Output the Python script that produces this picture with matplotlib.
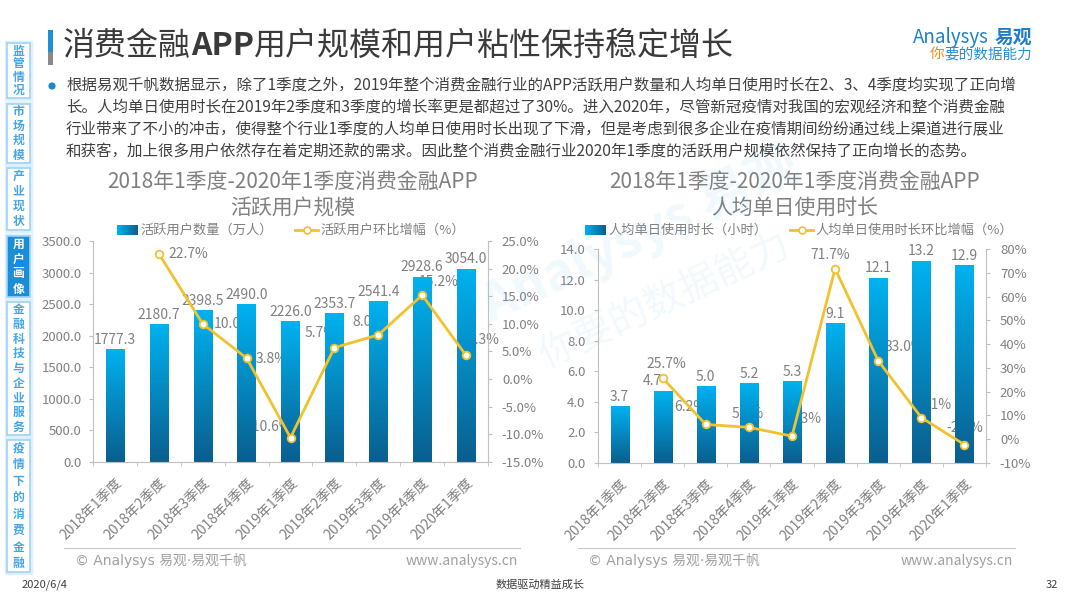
import matplotlib
matplotlib.use('Agg')
import matplotlib.pyplot as plt
import numpy as np
from matplotlib.patches import Rectangle, Circle
from matplotlib.lines import Line2D
from matplotlib.colors import LinearSegmentedColormap

plt.rcParams['font.family'] = ['Noto Sans CJK SC', 'DejaVu Sans']

# ---------------- data ----------------
categories = ['2018年1季度', '2018年2季度', '2018年3季度', '2018年4季度', '2019年1季度',
              '2019年2季度', '2019年3季度', '2019年4季度', '2020年1季度']
users = [1777.3, 2180.7, 2398.5, 2490.0, 2226.0, 2353.7, 2541.4, 2928.6, 3054.0]
users_growth = [np.nan, 22.7, 10.0, 3.8, -10.6, 5.7, 8.0, 15.2, 4.3]
hours = [3.7, 4.7, 5.0, 5.2, 5.3, 9.1, 12.1, 13.2, 12.9]
hours_growth = [np.nan, 25.7, 6.2, 5.0, 1.3, 71.7, 33.0, 9.1, -2.3]

left_title = '2018年1季度-2020年1季度消费金融APP\n活跃用户规模'
right_title = '2018年1季度-2020年1季度消费金融APP\n人均单日使用时长'
left_legend = ['活跃用户数量（万人）', '活跃用户环比增幅（%）']
right_legend = ['人均单日使用时长（小时）', '人均单日使用时长环比增幅（%）']
page_title_parts = [('消费金融', 'normal'), ('APP', 'bold'), ('用户规模和用户粘性保持稳定增长', 'normal')]
body_lines = [
    '根据易观千帆数据显示，除了1季度之外，2019年整个消费金融行业的APP活跃用户数量和人均单日使用时长在2、3、4季度均实现了正向增',
    '长。人均单日使用时长在2019年2季度和3季度的增长率更是都超过了30%。进入2020年，尽管新冠疫情对我国的宏观经济和整个消费金融',
    '行业带来了不小的冲击，使得整个行业1季度的人均单日使用时长出现了下滑，但是考虑到很多企业在疫情期间纷纷通过线上渠道进行展业',
    '和获客，加上很多用户依然存在着定期还款的需求。因此整个消费金融行业2020年1季度的活跃用户规模依然保持了正向增长的态势。',
]
side_tabs = ['监管情况', '市场规模', '产业现状', '用户画像', '金融科技与企业服务', '疫情下的消费金融']
active_tab = 3

# ---------------- styles ----------------
W, H = 1080, 608
GRAY = '#808080'
AXC = '#c0c0c0'
GOLD = '#F2C12E'
bar_cmap = LinearSegmentedColormap.from_list('b', ['#0A5E8E', '#00B2F0'])
# label placement (ha, dx px, dy px down) for the growth labels
users_lbl_style = [None, ('left', 10, 0), ('left', 11, 0), ('left', 9, 1), ('right', 2, -11),
                   ('right', 2, -15), ('right', 6, -13), ('left', -3, -13), ('left', 2, -15)]
hours_lbl_style = [None, ('center', 4, -14), ('right', 1, -17), ('center', -1, -13), ('left', -2, -17),
                   ('center', -5, -14), ('left', 6, -14), ('left', -2, -13), ('center', 0, -17)]
hours_bar_dx = [0, -10, 0, 0, 0, 0, 0, 0, 0]

fig = plt.figure(figsize=(W / 100, H / 100), dpi=100)
fig.patch.set_facecolor('white')


def ax_rect(x0, y0, x1, y1):
    return [x0 / W, 1 - y1 / H, (x1 - x0) / W, (y1 - y0) / H]


def make_chart(rect, bars, growth, ylim, yticks, yfmt, y2lim, y2ticks, y2fmt, lbl_style, bar_dx, lpad, rpad):
    ax = fig.add_axes(rect)
    ax2 = ax.twinx()
    x = np.arange(len(bars))
    bc = ax.bar(x, bars, width=0.42, color='none', edgecolor='none', zorder=2)
    grad = np.linspace(0, 1, 256).reshape(-1, 1)
    for r in bc:
        ax.imshow(grad, cmap=bar_cmap, origin='lower', aspect='auto', zorder=2,
                  extent=(r.get_x(), r.get_x() + r.get_width(), 0, r.get_height()))
    for i, v in enumerate(bars):
        ax.annotate(yfmt.format(v), (i, v), xytext=(bar_dx[i] * 0.72, 2), textcoords='offset points',
                    ha='center', va='bottom', color=GRAY, fontsize=10, zorder=5)
    ax.set_xlim(-0.5, len(bars) - 0.5)
    ax.set_ylim(*ylim)
    ax.set_yticks(yticks)
    ax.set_yticklabels([yfmt.format(t) for t in yticks])
    ax2.set_ylim(*y2lim)
    ax2.set_yticks(y2ticks)
    ax2.set_yticklabels([y2fmt.format(t) for t in y2ticks])
    ax2.plot(x, growth, color=GOLD, lw=2.0, marker='o', ms=5.5, mfc='white', mec=GOLD, mew=1.3, zorder=3)
    for i, v in enumerate(growth):
        if lbl_style[i] is None:
            continue
        ha, dx, dy = lbl_style[i]
        ax.annotate(f'{v:.1f}%', (i, v), xycoords=ax2.transData, xytext=(dx * 0.72, -dy * 0.72),
                    textcoords='offset points', ha=ha, va='center', color=GRAY, fontsize=10, zorder=1)
    ax.set_xticks(x)
    ax.set_xticklabels(categories, rotation=45, ha='right', va='top', rotation_mode='anchor',
                       color=GRAY, fontsize=10)
    ax.set_xticks(np.arange(-0.5, len(bars), 1), minor=True)
    ax.tick_params(axis='x', which='major', length=0, pad=10)
    ax.tick_params(axis='x', which='minor', length=3, color=AXC)
    ax.tick_params(axis='y', length=3, color=AXC, labelcolor=GRAY, labelsize=9.5, pad=lpad)
    ax2.tick_params(axis='y', length=3, color=AXC, labelcolor=GRAY, labelsize=9.5, pad=rpad)
    for a in (ax, ax2):
        a.spines['top'].set_visible(False)
        for s in a.spines.values():
            s.set_color(AXC)
    ax.spines['right'].set_visible(False)
    ax2.spines['left'].set_visible(False)
    ax2.spines['bottom'].set_visible(False)
    ax.patch.set_visible(False)
    return ax, ax2


make_chart(ax_rect(93, 241, 488, 462), users, users_growth, (0, 3500), np.arange(0, 3501, 500), '{:.1f}',
           (-15, 25), np.arange(-15, 26, 5), '{:.1f}%', users_lbl_style, [0] * 9, 5, 7)
make_chart(ax_rect(598, 249, 986, 463), hours, hours_growth, (0, 14), np.arange(0, 14.1, 2), '{:.1f}',
           (-10, 80), np.arange(-10, 81, 10), '{:.0f}%', hours_lbl_style, hours_bar_dx, 6, 7)

# ---------------- page overlay ----------------
ov = fig.add_axes([0, 0, 1, 1], zorder=10)
ov.set_xlim(0, W)
ov.set_ylim(H, 0)
ov.axis('off')
renderer = fig.canvas.get_renderer()

# header
ov.add_patch(Rectangle((48, 30), 5, 22, color='#1E8FD6', lw=0))
ov.add_patch(Rectangle((48, 52), 5, 13, color='#8a8a8a', lw=0))
xcur = 63
for txt, wt in page_title_parts:
    t = ov.text(xcur, 46, txt, fontsize=23, fontweight=wt, color='#3a3a3a', ha='left', va='center')
    ext = t.get_window_extent(renderer)
    xcur = ext.x1

# logo
t = ov.text(913, 37, 'Analysys', fontsize=13.5, color='#1E7FC8', ha='left', va='center', fontstyle='italic')
ov.text(t.get_window_extent(renderer).x1 + 6, 37, '易观', fontsize=13.5, color='#1E7FC8', ha='left',
        va='center', fontweight='bold')
t = ov.text(930, 54, '你', fontsize=10.5, color='#F08A24', ha='left', va='center')
ov.text(t.get_window_extent(renderer).x1, 54, '要的数据能力', fontsize=10.5, color='#2A8FD6', ha='left', va='center')

# body
ov.add_patch(Circle((52, 86), 3.6, color='#1E88D0', lw=0))
for k, line in enumerate(body_lines):
    ov.text(66, 86 + 22 * k, line, fontsize=11.15, color='#404040', ha='left', va='center')

# sidebar
tab_y = [(43, 98), (104, 163), (168, 230), (236, 297), (302, 435), (440, 572)]
for k, (name, (y0, y1)) in enumerate(zip(side_tabs, tab_y)):
    act = (k == active_tab)
    ov.add_patch(Rectangle((6, y0 - 1), 25, y1 - y0 + 2, facecolor='none', edgecolor='#DDF0FC', lw=2.5))
    ov.add_patch(Rectangle((7, y0), 23, y1 - y0, facecolor='#1A8DD8' if act else 'white',
                           edgecolor='#9FD3F4', lw=1.2))
    n = len(name)
    step = (y1 - y0 - 16) / (n - 1)
    for j, ch in enumerate(name):
        ov.text(18.5, y0 + 8 + j * step, ch, fontsize=8.5, ha='center', va='center',
                color='white' if act else '#45A6E6', fontweight='bold')

# chart titles
ov.text(293, 195, left_title, fontsize=15, color=GRAY, ha='center', va='center', linespacing=1.25)
ov.text(795, 195, right_title, fontsize=15, color=GRAY, ha='center', va='center', linespacing=1.25)

# legends
lg_grad = np.linspace(0, 1, 64).reshape(1, -1)
for (px0, tx0, lx0, tx1), labels in [((117, 140, 295, 320), left_legend), ((585, 608, 790, 815), right_legend)]:
    ov.imshow(lg_grad, cmap=LinearSegmentedColormap.from_list('l', ['#00B2F0', '#0A5E8E']),
              extent=(px0, px0 + 21, 235, 225), aspect='auto', zorder=3)
    ov.text(tx0, 230, labels[0], fontsize=9.5, color=GRAY, ha='left', va='center')
    ov.add_line(Line2D([lx0, lx0 + 23], [230, 230], color=GOLD, lw=2))
    ov.plot([lx0 + 11.5], [230], marker='o', ms=5, mfc='white', mec=GOLD, mew=1.2)
    ov.text(tx1, 230, labels[1], fontsize=9.5, color=GRAY, ha='left', va='center')

# chart footers
for x0, x1, tx0, tx1 in [(64, 520, 75, 518), (578, 1015, 588, 1013)]:
    ov.add_line(Line2D([x0, x1], [548, 548], color='#c8c8c8', lw=0.8))
    ov.text(tx0, 561, '© Analysys 易观·易观千帆', fontsize=10, color='#a0a0a0', ha='left', va='center',
            family=['DejaVu Sans', 'Noto Sans CJK SC'])
    ov.text(tx1, 561, 'www.analysys.cn', fontsize=10, color='#a0a0a0', ha='right', va='center')

# page footer
ov.text(22, 585, '2020/6/4', fontsize=8, color='#404040', ha='left', va='center')
ov.text(540, 585, '数据驱动精益成长', fontsize=8, color='#404040', ha='center', va='center')
ov.text(1058, 585, '32', fontsize=8, color='#404040', ha='right', va='center')

# watermark
ov.text(640, 235, 'Analysys 易观', fontsize=38, color='#5AB4E8', alpha=0.08, rotation=25,
        ha='center', va='center', fontweight='bold')
ov.text(665, 300, '你要的数据能力', fontsize=28, color='#5AB4E8', alpha=0.08, rotation=25,
        ha='center', va='center')

fig.savefig('out.png', dpi=100, facecolor='white')
